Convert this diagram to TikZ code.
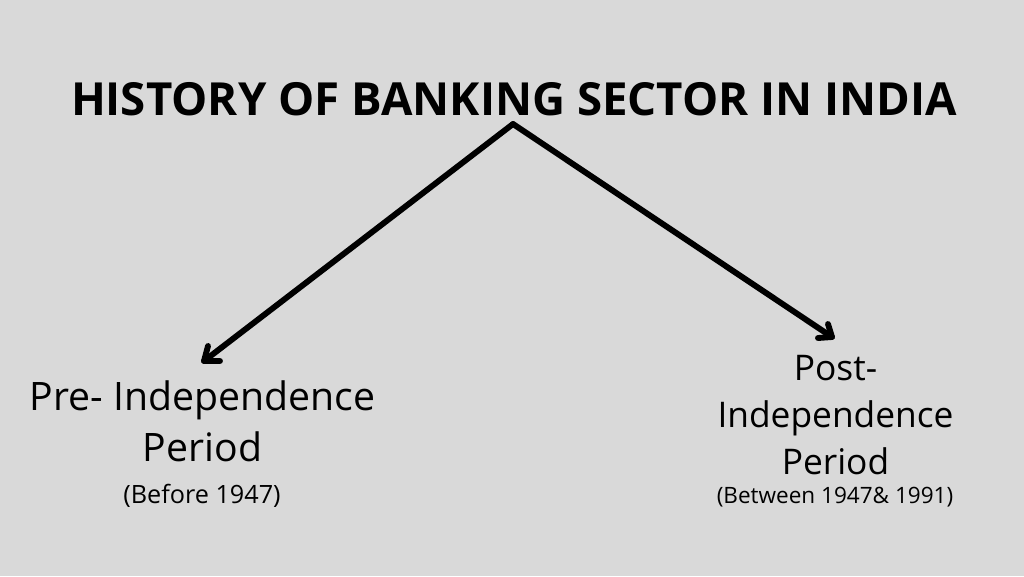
\documentclass[tikz,border=0pt]{standalone}
\usepackage{fontspec}
\setmainfont{Open Sans}
\definecolor{bg}{HTML}{D9D9D9}
\tikzset{
 px/.style={x=0.75pt,y=-0.75pt},
 title/.style={font=\fontsize{34.2}{38}\selectfont\bfseries,inner sep=0pt,text=black},
 headl/.style={font=\fontsize{29.4}{38.2}\selectfont,align=center,inner sep=0pt,text=black},
 headr/.style={font=\fontsize{26.5}{35}\selectfont,align=center,inner sep=0pt,text=black},
 subl/.style={font=\fontsize{18.9}{22}\selectfont,inner sep=0pt,text=black},
 subr/.style={font=\fontsize{16.9}{22}\selectfont,inner sep=0pt,text=black},
 arrowline/.style={line width=4.4pt,line cap=round,line join=round}
}
\begin{document}
\begin{tikzpicture}[px]
\fill[bg] (0,0) rectangle (1024,576);
\useasboundingbox (0,0) rectangle (1024,576);
\node[title] (t) at (514,99) {HISTORY OF BANKING SECTOR IN INDIA};
\coordinate (apex) at (513,124);
\coordinate (la) at (204,361);
\coordinate (ra) at (832,337);
\coordinate (la1) at (208,346);
\coordinate (la2) at (220,361);
\coordinate (ra1) at (818,338);
\coordinate (ra2) at (828,324);
\node[headl] (pre) at (202.5,421) {Pre- Independence\\Period};
\node[subl] (pres) at (202,496) {(Before 1947)};
\node[headr] (post) at (835.5,415) {Post-\\Independence\\Period};
\node[subr] (posts) at (835,497.5) {(Between 1947\& 1991)};
\draw[arrowline] (apex) -- (la);
\draw[arrowline] (apex) -- (ra);
\draw[arrowline] (la1) -- (la) -- (la2);
\draw[arrowline] (ra1) -- (ra) -- (ra2);
\end{tikzpicture}
\end{document}
